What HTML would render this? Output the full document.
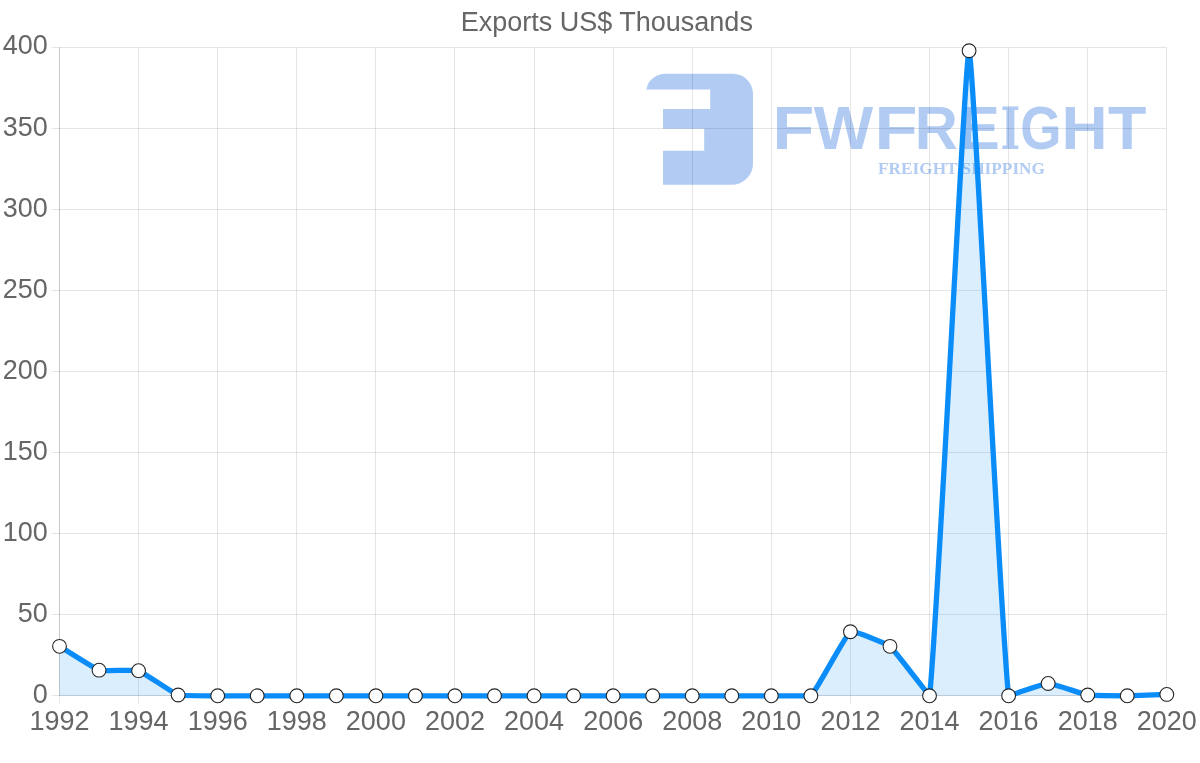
<!DOCTYPE html>
<html lang="en"><head><meta charset="utf-8"><title>Exports US$ Thousands</title>
<style>html,body{margin:0;padding:0;background:#fff}body{width:1200px;height:763px;overflow:hidden}svg{display:block}text{font-family:"Liberation Sans",Arial,Helvetica,sans-serif;fill:#666}.wm{font-family:"Liberation Sans",Arial,sans-serif;font-weight:bold;fill:#b2cbf3}.ws{font-family:"Liberation Serif","Times New Roman",serif;font-weight:bold;fill:#b2cbf3}</style></head><body>
<svg width="1200" height="763" viewBox="0 0 1200 763" role="img" aria-label="Exports US$ Thousands line chart, 1992 to 2020">
<rect width="1200" height="763" fill="#fff"/>
<g id="watermark" aria-label="FWFREIGHT FREIGHT SHIPPING"><title>FWFREIGHT FREIGHT SHIPPING</title>
<path fill="#b2cbf3" d="M646.4 89.4 A19.5 17 0 0 1 665.5 73.8 H733 A20 20 0 0 1 753 93.8 V163.5 A21.3 21.3 0 0 1 731.7 184.8 H663 V150.8 H704.2 V128.8 H663 V109 H710.2 V89.4 Z"/>
<text class="wm" transform="translate(0,148.8) scale(1,1.02)" font-size="60"><tspan x="772.42" textLength="41.78" lengthAdjust="spacingAndGlyphs">F</tspan><tspan x="813.64" textLength="59.42" lengthAdjust="spacingAndGlyphs">W</tspan><tspan x="874.48" textLength="43.10" lengthAdjust="spacingAndGlyphs">F</tspan><tspan x="914.81" textLength="43.12" lengthAdjust="spacingAndGlyphs">R</tspan><tspan x="957.77" textLength="42.20" lengthAdjust="spacingAndGlyphs">E</tspan><tspan x="1000.52" textLength="19.71" lengthAdjust="spacingAndGlyphs" font-family="DejaVu Serif" font-size="56.6">I</tspan><tspan x="1020.32" textLength="41.27" lengthAdjust="spacingAndGlyphs">G</tspan><tspan x="1061.53" textLength="46.07" lengthAdjust="spacingAndGlyphs">H</tspan><tspan x="1108.09" textLength="38.38" lengthAdjust="spacingAndGlyphs">T</tspan></text>
<text class="ws" transform="translate(878,174.4)" font-size="17" textLength="167" lengthAdjust="spacingAndGlyphs">FREIGHT SHIPPING</text>
</g>
<g id="grid" stroke="rgba(0,0,0,0.1)" stroke-width="1" fill="none">
<line x1="59.50" y1="695.5" x2="59.50" y2="703.5"/>
<line x1="59.50" y1="47.5" x2="59.50" y2="695.5" stroke="rgba(0,0,0,0.22)"/>
<line x1="138.50" y1="47.5" x2="138.50" y2="703.5"/>
<line x1="217.50" y1="47.5" x2="217.50" y2="703.5"/>
<line x1="296.50" y1="47.5" x2="296.50" y2="703.5"/>
<line x1="375.50" y1="47.5" x2="375.50" y2="703.5"/>
<line x1="454.50" y1="47.5" x2="454.50" y2="703.5"/>
<line x1="534.50" y1="47.5" x2="534.50" y2="703.5"/>
<line x1="613.50" y1="47.5" x2="613.50" y2="703.5"/>
<line x1="692.50" y1="47.5" x2="692.50" y2="703.5"/>
<line x1="771.50" y1="47.5" x2="771.50" y2="703.5"/>
<line x1="850.50" y1="47.5" x2="850.50" y2="703.5"/>
<line x1="929.50" y1="47.5" x2="929.50" y2="703.5"/>
<line x1="1008.50" y1="47.5" x2="1008.50" y2="703.5"/>
<line x1="1087.50" y1="47.5" x2="1087.50" y2="703.5"/>
<line x1="1166.50" y1="47.5" x2="1166.50" y2="703.5"/>
<line x1="51.5" y1="695.50" x2="59.5" y2="695.50"/>
<line x1="59.5" y1="695.50" x2="1166.5" y2="695.50" stroke="rgba(0,0,0,0.17)"/>
<line x1="51.5" y1="614.50" x2="1166.5" y2="614.50"/>
<line x1="51.5" y1="533.50" x2="1166.5" y2="533.50"/>
<line x1="51.5" y1="452.50" x2="1166.5" y2="452.50"/>
<line x1="51.5" y1="371.50" x2="1166.5" y2="371.50"/>
<line x1="51.5" y1="290.50" x2="1166.5" y2="290.50"/>
<line x1="51.5" y1="209.50" x2="1166.5" y2="209.50"/>
<line x1="51.5" y1="128.50" x2="1166.5" y2="128.50"/>
<line x1="51.5" y1="47.50" x2="1166.5" y2="47.50"/>
</g>
<g id="labels">
<text transform="translate(606.80,30.90) scale(1,1.0)" text-anchor="middle" font-size="27">Exports US$ Thousands</text>
<text transform="translate(47.80,703.00) scale(1,1.041)" text-anchor="end" font-size="27">0</text>
<text transform="translate(47.80,622.00) scale(1,1.041)" text-anchor="end" font-size="27">50</text>
<text transform="translate(47.80,541.00) scale(1,1.041)" text-anchor="end" font-size="27">100</text>
<text transform="translate(47.80,460.00) scale(1,1.041)" text-anchor="end" font-size="27">150</text>
<text transform="translate(47.80,379.00) scale(1,1.041)" text-anchor="end" font-size="27">200</text>
<text transform="translate(47.80,298.00) scale(1,1.041)" text-anchor="end" font-size="27">250</text>
<text transform="translate(47.80,217.00) scale(1,1.041)" text-anchor="end" font-size="27">300</text>
<text transform="translate(47.80,136.00) scale(1,1.041)" text-anchor="end" font-size="27">350</text>
<text transform="translate(47.80,54.00) scale(1,1.041)" text-anchor="end" font-size="27">400</text>
<text transform="translate(59.50,730.00) scale(1,1.041)" text-anchor="middle" font-size="27">1992</text>
<text transform="translate(138.59,730.00) scale(1,1.041)" text-anchor="middle" font-size="27">1994</text>
<text transform="translate(217.69,730.00) scale(1,1.041)" text-anchor="middle" font-size="27">1996</text>
<text transform="translate(296.78,730.00) scale(1,1.041)" text-anchor="middle" font-size="27">1998</text>
<text transform="translate(375.87,730.00) scale(1,1.041)" text-anchor="middle" font-size="27">2000</text>
<text transform="translate(454.96,730.00) scale(1,1.041)" text-anchor="middle" font-size="27">2002</text>
<text transform="translate(534.06,730.00) scale(1,1.041)" text-anchor="middle" font-size="27">2004</text>
<text transform="translate(613.15,730.00) scale(1,1.041)" text-anchor="middle" font-size="27">2006</text>
<text transform="translate(692.24,730.00) scale(1,1.041)" text-anchor="middle" font-size="27">2008</text>
<text transform="translate(771.34,730.00) scale(1,1.041)" text-anchor="middle" font-size="27">2010</text>
<text transform="translate(850.43,730.00) scale(1,1.041)" text-anchor="middle" font-size="27">2012</text>
<text transform="translate(929.52,730.00) scale(1,1.041)" text-anchor="middle" font-size="27">2014</text>
<text transform="translate(1008.61,730.00) scale(1,1.041)" text-anchor="middle" font-size="27">2016</text>
<text transform="translate(1087.71,730.00) scale(1,1.041)" text-anchor="middle" font-size="27">2018</text>
<text transform="translate(1166.80,730.00) scale(1,1.041)" text-anchor="middle" font-size="27">2020</text>
</g>
<path d="M59.50 646.33 C63.45 648.71 94.79 668.86 99.05 670.17 C102.70 671.29 134.95 669.52 138.59 670.66 C142.86 672.00 173.87 693.63 178.14 694.99 C181.78 695.80 213.73 695.76 217.69 695.80 C221.64 695.80 253.28 695.80 257.23 695.80 C261.19 695.80 292.82 695.80 296.78 695.80 C300.73 695.80 332.37 695.80 336.32 695.80 C340.28 695.80 371.92 695.80 375.87 695.80 C379.83 695.80 411.46 695.80 415.42 695.80 C419.37 695.80 451.01 695.80 454.96 695.80 C458.92 695.80 490.56 695.80 494.51 695.80 C498.47 695.80 530.10 695.80 534.06 695.80 C538.01 695.80 569.65 695.80 573.60 695.80 C577.56 695.80 609.20 695.80 613.15 695.80 C617.10 695.80 648.74 695.80 652.70 695.80 C656.65 695.80 688.29 695.80 692.24 695.80 C696.20 695.80 727.83 695.80 731.79 695.80 C735.74 695.80 767.38 695.80 771.34 695.80 C775.29 695.80 808.16 695.80 810.88 695.80 C816.07 691.60 845.36 634.90 850.43 631.73 C853.27 629.96 886.81 643.77 889.98 646.33 C894.72 650.18 928.82 695.80 929.52 695.80 C936.72 641.56 965.11 50.73 969.07 50.73 C973.02 50.73 1001.18 636.34 1008.61 695.80 C1009.09 695.80 1044.19 683.51 1048.16 683.47 C1052.10 683.43 1083.67 694.36 1087.71 694.99 C1091.58 695.59 1123.30 695.80 1127.25 695.80 C1131.21 695.77 1162.85 694.56 1166.80 694.42 L1166.8 695.8 L59.5 695.8 Z" fill="rgba(10,141,248,0.15)"/>
<path d="M59.50 646.33 C63.45 648.71 94.79 668.86 99.05 670.17 C102.70 671.29 134.95 669.52 138.59 670.66 C142.86 672.00 173.87 693.63 178.14 694.99 C181.78 695.80 213.73 695.76 217.69 695.80 C221.64 695.80 253.28 695.80 257.23 695.80 C261.19 695.80 292.82 695.80 296.78 695.80 C300.73 695.80 332.37 695.80 336.32 695.80 C340.28 695.80 371.92 695.80 375.87 695.80 C379.83 695.80 411.46 695.80 415.42 695.80 C419.37 695.80 451.01 695.80 454.96 695.80 C458.92 695.80 490.56 695.80 494.51 695.80 C498.47 695.80 530.10 695.80 534.06 695.80 C538.01 695.80 569.65 695.80 573.60 695.80 C577.56 695.80 609.20 695.80 613.15 695.80 C617.10 695.80 648.74 695.80 652.70 695.80 C656.65 695.80 688.29 695.80 692.24 695.80 C696.20 695.80 727.83 695.80 731.79 695.80 C735.74 695.80 767.38 695.80 771.34 695.80 C775.29 695.80 808.16 695.80 810.88 695.80 C816.07 691.60 845.36 634.90 850.43 631.73 C853.27 629.96 886.81 643.77 889.98 646.33 C894.72 650.18 928.82 695.80 929.52 695.80 C936.72 641.56 965.11 50.73 969.07 50.73 C973.02 50.73 1001.18 636.34 1008.61 695.80 C1009.09 695.80 1044.19 683.51 1048.16 683.47 C1052.10 683.43 1083.67 694.36 1087.71 694.99 C1091.58 695.59 1123.30 695.80 1127.25 695.80 C1131.21 695.77 1162.85 694.56 1166.80 694.42" fill="none" stroke="#0a8df8" stroke-width="5.3" stroke-linejoin="miter" stroke-linecap="butt"/>
<g fill="#fff" stroke="#262626" stroke-width="1.1">
<circle cx="59.50" cy="646.33" r="6.9"/>
<circle cx="99.05" cy="670.17" r="6.9"/>
<circle cx="138.59" cy="670.66" r="6.9"/>
<circle cx="178.14" cy="694.99" r="6.9"/>
<circle cx="217.69" cy="695.80" r="6.9"/>
<circle cx="257.23" cy="695.80" r="6.9"/>
<circle cx="296.78" cy="695.80" r="6.9"/>
<circle cx="336.32" cy="695.80" r="6.9"/>
<circle cx="375.87" cy="695.80" r="6.9"/>
<circle cx="415.42" cy="695.80" r="6.9"/>
<circle cx="454.96" cy="695.80" r="6.9"/>
<circle cx="494.51" cy="695.80" r="6.9"/>
<circle cx="534.06" cy="695.80" r="6.9"/>
<circle cx="573.60" cy="695.80" r="6.9"/>
<circle cx="613.15" cy="695.80" r="6.9"/>
<circle cx="652.70" cy="695.80" r="6.9"/>
<circle cx="692.24" cy="695.80" r="6.9"/>
<circle cx="731.79" cy="695.80" r="6.9"/>
<circle cx="771.34" cy="695.80" r="6.9"/>
<circle cx="810.88" cy="695.80" r="6.9"/>
<circle cx="850.43" cy="631.73" r="6.9"/>
<circle cx="889.98" cy="646.33" r="6.9"/>
<circle cx="929.52" cy="695.80" r="6.9"/>
<circle cx="969.07" cy="50.73" r="6.9"/>
<circle cx="1008.61" cy="695.80" r="6.9"/>
<circle cx="1048.16" cy="683.47" r="6.9"/>
<circle cx="1087.71" cy="694.99" r="6.9"/>
<circle cx="1127.25" cy="695.80" r="6.9"/>
<circle cx="1166.80" cy="694.42" r="6.9"/>
</g>
</svg></body></html>
